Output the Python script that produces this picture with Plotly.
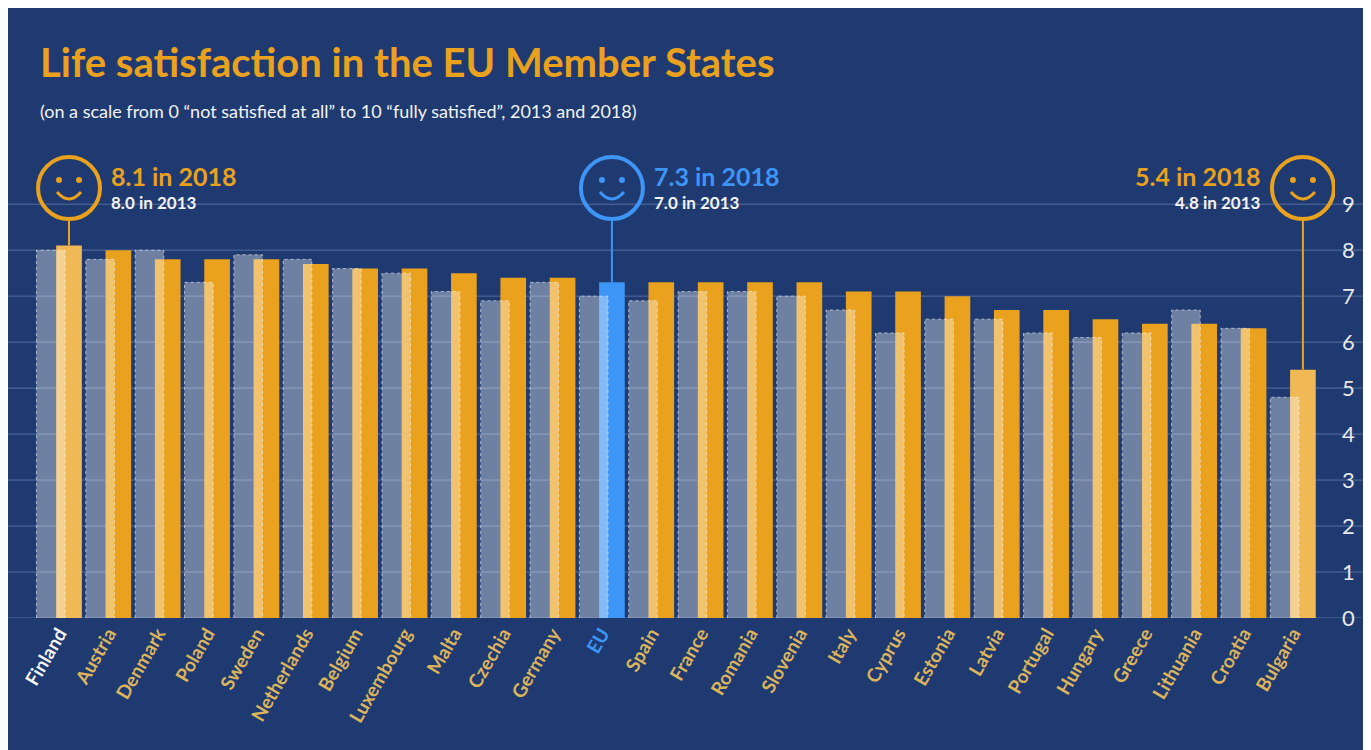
import plotly.graph_objects as go

countries = ["Finland", "Austria", "Denmark", "Poland", "Sweden", "Netherlands", "Belgium",
             "Luxembourg", "Malta", "Czechia", "Germany", "EU", "Spain", "France", "Romania",
             "Slovenia", "Italy", "Cyprus", "Estonia", "Latvia", "Portugal", "Hungary",
             "Greece", "Lithuania", "Croatia", "Bulgaria"]
values_2013 = [8.0, 7.8, 8.0, 7.3, 7.9, 7.8, 7.6, 7.5, 7.1, 6.9, 7.3, 7.0, 6.9, 7.1, 7.1,
               7.0, 6.7, 6.2, 6.5, 6.5, 6.2, 6.1, 6.2, 6.7, 6.3, 4.8]
values_2018 = [8.1, 8.0, 7.8, 7.8, 7.8, 7.7, 7.6, 7.6, 7.5, 7.4, 7.4, 7.3, 7.3, 7.3, 7.3,
               7.3, 7.1, 7.1, 7.0, 6.7, 6.7, 6.5, 6.4, 6.4, 6.3, 5.4]
y_ticks = list(range(0, 10))

BG = "#1f3a70"
ORANGE = "#e9a11e"
LIGHT_ORANGE = "#f0b955"
BLUE = "#3d95f5"
LABEL_ORANGE = "#dcb45c"
FONT = "Lato, sans-serif"

highlights = {"Finland": LIGHT_ORANGE, "Bulgaria": LIGHT_ORANGE, "EU": BLUE}
x_idx = list(range(len(countries)))
colors_2018 = [highlights.get(c, ORANGE) for c in countries]

GREY_OFF, GREY_W = -0.46, 0.58
OR_OFF, OR_W = -0.06, 0.52

# plot area in pixels (used to place paper-referenced text above the plot)
M_L, M_R, M_T, M_B = 24, 44, 141, 140
PLOT_H = 750 - M_T - M_B
PLOT_W = 1371 - M_L - M_R

def paper_y(px):
    return (750 - M_B - px) / PLOT_H

def paper_x(px):
    return (px - M_L) / PLOT_W

fig = go.Figure()
fig.add_trace(go.Bar(x=x_idx, y=values_2018, offset=OR_OFF, width=OR_W,
                     marker=dict(color=colors_2018, line=dict(width=0)), hoverinfo="y"))
fig.add_trace(go.Bar(x=x_idx, y=values_2013, offset=GREY_OFF, width=GREY_W,
                     marker=dict(color="rgba(255,255,255,0.36)", line=dict(width=0)),
                     hoverinfo="y"))

# dotted outline of the 2013 bars
ox, oy = [], []
for i, v in zip(x_idx, values_2013):
    ox += [i + GREY_OFF, i + GREY_OFF, i + GREY_OFF + GREY_W, i + GREY_OFF + GREY_W, None]
    oy += [0, v, v, 0, None]
fig.add_trace(go.Scatter(x=ox, y=oy, mode="lines", hoverinfo="skip", cliponaxis=False,
                         line=dict(color="rgba(255,255,255,0.55)", width=1, dash="dot")))

shapes = []
for t in y_ticks:
    shapes.append(dict(type="line", xref="paper", yref="y", x0=-0.03, x1=1.05, y0=t, y1=t,
                       line=dict(color="rgba(150,175,215,0.45)", width=1), layer="below"))

annotations = []
callouts = [("Finland", ORANGE, "left"), ("EU", BLUE, "left"), ("Bulgaria", ORANGE, "right")]
CIRCLE_Y = 9.35
for name, col, side in callouts:
    i = countries.index(name)
    cx = i + OR_OFF + OR_W / 2
    v18 = values_2018[i]
    v13 = values_2013[i]
    shapes.append(dict(type="line", xref="x", yref="y", x0=cx, x1=cx, y0=v18, y1=CIRCLE_Y - 0.68,
                       line=dict(color=col, width=2)))
    shapes.append(dict(type="circle", xref="x", yref="y", xsizemode="pixel", ysizemode="pixel",
                       xanchor=cx, yanchor=CIRCLE_Y, x0=-31, x1=31, y0=-31, y1=31,
                       line=dict(color=col, width=4)))
    for ex in (-10, 10):
        shapes.append(dict(type="circle", xref="x", yref="y", xsizemode="pixel", ysizemode="pixel",
                           xanchor=cx, yanchor=CIRCLE_Y, x0=ex - 3, x1=ex + 3, y0=5, y1=11,
                           fillcolor=col, line=dict(width=0)))
    shapes.append(dict(type="path", xref="x", yref="y", xsizemode="pixel", ysizemode="pixel",
                       xanchor=cx, yanchor=CIRCLE_Y, path="M -12 -4 Q 0 -18 12 -4",
                       line=dict(color=col, width=3)))
    shift = 40 if side == "left" else -40
    annotations.append(dict(x=cx, y=CIRCLE_Y, xref="x", yref="y", xshift=shift, yshift=12,
                            text=f"<b>{v18:.1f} in 2018</b>", showarrow=False, xanchor=side,
                            font=dict(family=FONT, size=25, color=col)))
    annotations.append(dict(x=cx, y=CIRCLE_Y, xref="x", yref="y", xshift=shift, yshift=-14,
                            text=f"<b>{v13:.1f} in 2013</b>", showarrow=False, xanchor=side,
                            font=dict(family=FONT, size=17, color="#f2f2f2")))

annotations.append(dict(x=paper_x(30), y=paper_y(28), xref="paper", yref="paper",
                        xanchor="left", yanchor="top",
                        text="<b>Life satisfaction in the EU Member States</b>", showarrow=False,
                        font=dict(family=FONT, size=40, color=ORANGE)))
annotations.append(dict(x=paper_x(30), y=paper_y(90), xref="paper", yref="paper",
                        xanchor="left", yanchor="top",
                        text="(on a scale from 0 \u201cnot satisfied at all\u201d to 10 \u201cfully satisfied\u201d, 2013 and 2018)",
                        showarrow=False, font=dict(family=FONT, size=18, color="#f2f2f2")))

tick_text = []
for c in countries:
    col = "#f2f2f2" if c == "Finland" else (BLUE if c == "EU" else LABEL_ORANGE)
    tick_text.append(f"<span style='color:{col}'><b>{c}</b></span>")

fig.update_layout(
    width=1371, height=750,
    margin=dict(l=M_L, r=M_R, t=M_T, b=M_B),
    paper_bgcolor=BG, plot_bgcolor=BG,
    barmode="overlay", showlegend=False,
    shapes=shapes, annotations=annotations,
    xaxis=dict(range=[-0.55, 25.85], tickvals=x_idx, ticktext=tick_text, tickangle=-60,
               showgrid=False, zeroline=False, showline=False,
               tickfont=dict(family=FONT, size=19, color=LABEL_ORANGE)),
    yaxis=dict(range=[0, 10.2], tickvals=y_ticks, side="right", showgrid=False, zeroline=False,
               ticklabelstandoff=6,
               tickfont=dict(family=FONT, size=22, color="#e8e8e8")),
)

fig.write_html("out.html")
